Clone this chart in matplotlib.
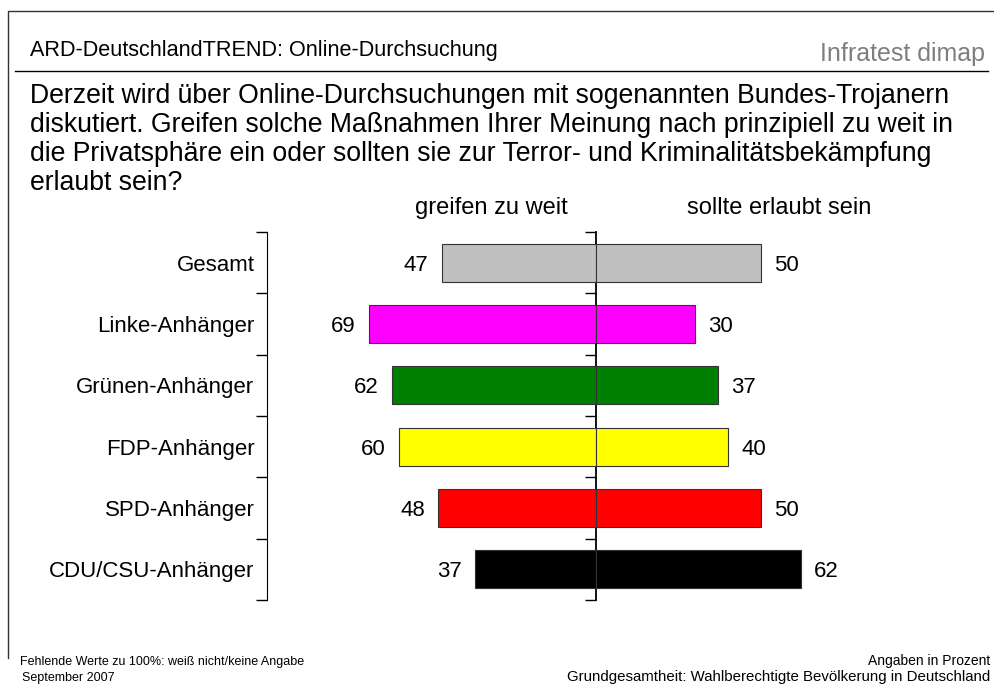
import matplotlib.pyplot as plt
import numpy as np
from matplotlib.lines import Line2D

plt.rcParams['font.family'] = ['Liberation Sans', 'DejaVu Sans']

categories = ['Gesamt', 'Linke-Anhänger', 'Grünen-Anhänger', 'FDP-Anhänger',
              'SPD-Anhänger', 'CDU/CSU-Anhänger']
too_far = [47, 69, 62, 60, 48, 37]
allowed = [50, 30, 37, 40, 50, 62]
colors = ['#c0c0c0', '#ff00ff', '#008000', '#ffff00', '#ff0000', '#000000']

title = 'ARD-DeutschlandTREND: Online-Durchsuchung'
question = ('Derzeit wird über Online-Durchsuchungen mit sogenannten Bundes-Trojanern\n'
            'diskutiert. Greifen solche Maßnahmen Ihrer Meinung nach prinzipiell zu weit in\n'
            'die Privatsphäre ein oder sollten sie zur Terror- und Kriminalitätsbekämpfung\n'
            'erlaubt sein?')

fig = plt.figure(figsize=(9.95, 6.86), dpi=100)
ax = fig.add_axes([0.2683, 0.1254, 0.6623, 0.5364])

y = np.arange(len(categories))
ax.barh(y, [-v for v in too_far], height=0.62, color=colors, edgecolor='#333333', linewidth=0.8)
ax.barh(y, allowed, height=0.62, color=colors, edgecolor='#333333', linewidth=0.8)

for i in range(len(categories)):
    ax.text(-too_far[i] - 4, y[i], str(too_far[i]), ha='right', va='center_baseline', fontsize=16)
    ax.text(allowed[i] + 4, y[i], str(allowed[i]), ha='left', va='center_baseline', fontsize=16)

ax.set_xlim(-100, 100)
ax.set_ylim(len(categories) - 0.5, -0.5)
ax.set_xticks([])
ax.set_yticks(y)
ax.set_yticklabels(categories, fontsize=16)
ax.set_yticks(np.arange(-0.5, len(categories)), minor=True)
ax.tick_params(axis='y', which='major', length=0, pad=9)
ax.tick_params(axis='y', which='minor', length=8, width=1)
for s in ['top', 'right', 'bottom']:
    ax.spines[s].set_visible(False)

# centre line with its own ticks
mid = ax.secondary_yaxis(0.5)
mid.set_alignment('left')
mid.set_yticks([])
mid.set_yticks(np.arange(-0.5, len(categories)), minor=True)
mid.tick_params(which='minor', length=8, width=1)
mid.spines['left'].set_linewidth(1.3)

ax.text(0.341, 1.05, 'greifen zu weit', transform=ax.transAxes, ha='center', va='baseline', fontsize=17)
ax.text(0.778, 1.05, 'sollte erlaubt sein', transform=ax.transAxes, ha='center', va='baseline', fontsize=17)

# header
fig.text(0.030, 1 - 56 / 686, title, fontsize=15.6, va='baseline')
fig.text(0.990, 1 - 61 / 686, 'Infratest dimap', fontsize=18, color='#7f7f7f',
         ha='right', va='baseline')
fig.add_artist(Line2D([15 / 995, 988 / 995], [1 - 71 / 686] * 2, color='black', lw=1))
fig.add_artist(Line2D([8 / 995, 8 / 995, 1.0], [1 - 658 / 686, 1 - 11 / 686, 1 - 11 / 686],
                      color='#333333', lw=1))

fig.text(0.030, 1 - 190 / 686, question, fontsize=19.2, va='baseline', linespacing=1.15)

# footer
fig.text(20 / 995, 1 - 665 / 686, 'Fehlende Werte zu 100%: weiß nicht/keine Angabe', fontsize=9, va='baseline')
fig.text(22 / 995, 1 - 681 / 686, 'September 2007', fontsize=9, va='baseline')
fig.text(990 / 995, 1 - 665 / 686, 'Angaben in Prozent', fontsize=10, ha='right', va='baseline')
fig.text(990 / 995, 1 - 681 / 686, 'Grundgesamtheit: Wahlberechtigte Bevölkerung in Deutschland',
         fontsize=10.8, ha='right', va='baseline')

fig.savefig('out.png', dpi=100)
